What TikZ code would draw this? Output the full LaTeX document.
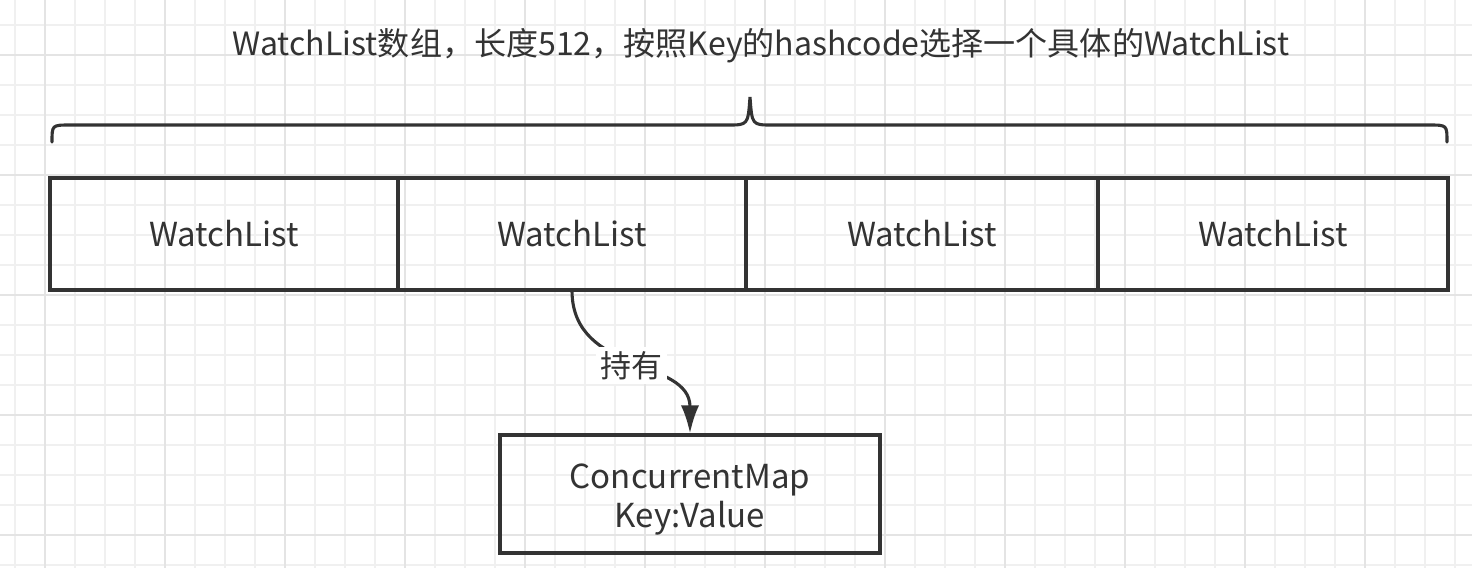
\documentclass[tikz,border=0pt]{standalone}
\usepackage{fontspec}
\setmainfont{Noto Sans CJK SC}
\usetikzlibrary{arrows.meta}
\definecolor{ink}{HTML}{333333}
\definecolor{gridminor}{HTML}{F0F0F0}
\definecolor{gridmajor}{HTML}{E4E4E4}
\begin{document}
\begin{tikzpicture}[x=0.025cm, y=-0.025cm, line width=2.2pt, draw=ink, text=ink,
    cell/.style={draw=ink, line width=2.2pt, inner sep=0pt, minimum height=112*0.025cm, font=\fontsize{23.5}{28}\selectfont},
    lbl/.style={fill=white, inner sep=3pt, font=\fontsize{22}{26}\selectfont}]
\useasboundingbox (0,0) rectangle (1472,568);
\fill[white] (0,0) rectangle (1472,568);
% grid
\foreach \x in {15,45,...,1465}
       \draw[gridminor, line width=1.3pt] (\x,0) -- (\x,568);
\foreach \y in {25,55,...,565}
       \draw[gridminor, line width=1.3pt] (0,\y) -- (1472,\y);
\foreach \x in {45,165,...,1465}
       \draw[gridmajor, line width=1.3pt] (\x,0) -- (\x,568);
\foreach \y in {55,175,...,565}
       \draw[gridmajor, line width=1.3pt] (0,\y) -- (1472,\y);

\node[text=ink, font=\fontsize{22.8}{27}\selectfont] (title) at (761,46) {WatchList数组，长度512，按照Key的hashcode选择一个具体的WatchList};

% brace
\coordinate (bl) at (52,142);
\coordinate (br) at (1447,142);
\coordinate (tip) at (750,97);
\draw[ink, line cap=round] (bl) .. controls (52,125) .. (70,125) -- (728,125)
   .. controls (748,125) .. (tip) .. controls (752,125) .. (772,125) -- (1429,125)
   .. controls (1447,125) .. (br);

% array of lists
\foreach \n/\l/\r in {w1/50/398, w2/398/746, w3/746/1098, w4/1098/1448}
       \node[cell, minimum width=(\r-\l)*0.025cm] (\n) at ({(\l+\r)/2},234) {WatchList};

\node[cell, minimum width=380*0.025cm, minimum height=118*0.025cm,
   label={[align=center, font=\fontsize{23.5}{28}\selectfont, text=ink, yshift=-4pt]center:{ConcurrentMap\\[0pt]Key:Value}}] (cm) at (690,494) {};

\draw[ink, -{Latex[length=20pt, width=13pt]}] (w2.south) .. controls (573,375) and (690,358) .. (cm.north)
   node[lbl, pos=0.5] (hold) {持有};
\end{tikzpicture}
\end{document}
